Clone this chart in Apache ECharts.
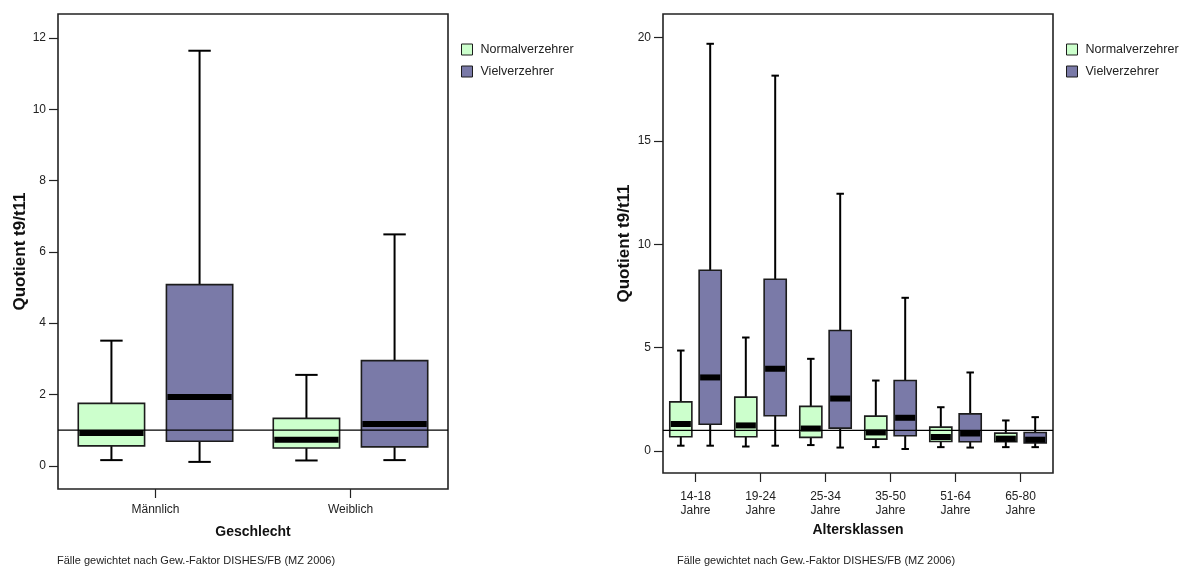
<!DOCTYPE html>
<html>
<head>
<meta charset="utf-8">
<script src="https://cdn.jsdelivr.net/npm/echarts@6/dist/echarts.min.js"></script>
<style>
  html, body { margin: 0; padding: 0; background: #fff; }
  #chart { width: 1179px; height: 573px; }
</style>
</head>
<body>
<div id="chart"></div>
<script>
// Box statistics per group: [whisker low, Q1, median, Q3, whisker high]
const genderCategories = ['Männlich', 'Weiblich'];
const genderNormal = [
  [0.16, 0.56, 0.92, 1.75, 3.51],
  [0.15, 0.50, 0.73, 1.33, 2.55]
];
const genderHeavy = [
  [0.11, 0.69, 1.93, 5.08, 11.64],
  [0.16, 0.53, 1.17, 2.95, 6.49]
];

const ageCategories = ['14-18\nJahre', '19-24\nJahre', '25-34\nJahre', '35-50\nJahre', '51-64\nJahre', '65-80\nJahre'];
const ageNormal = [
  [0.26, 0.69, 1.31, 2.38, 4.86],
  [0.22, 0.69, 1.24, 2.61, 5.49],
  [0.29, 0.66, 1.09, 2.16, 4.46],
  [0.19, 0.58, 0.90, 1.69, 3.41],
  [0.19, 0.46, 0.68, 1.16, 2.12],
  [0.19, 0.45, 0.60, 0.87, 1.48]
];
const ageHeavy = [
  [0.26, 1.30, 3.56, 8.74, 19.69],
  [0.26, 1.71, 3.98, 8.31, 18.15],
  [0.17, 1.11, 2.54, 5.83, 12.44],
  [0.10, 0.74, 1.61, 3.41, 7.41],
  [0.17, 0.45, 0.85, 1.80, 3.80],
  [0.19, 0.39, 0.55, 0.90, 1.64]
];

const genderTicks = [0, 2, 4, 6, 8, 10, 12];
const ageTicks = [0, 5, 10, 15, 20];
const referenceValue = [1];

const seriesNames = ['Normalverzehrer', 'Vielverzehrer'];
const footerText = 'Fälle gewichtet nach Gew.-Faktor DISHES/FB (MZ 2006)';

const FONT = 'Arial, "Liberation Sans", sans-serif';
const GREEN = '#ccffcc';
const PURPLE = '#7a7aa8';
const EDGE = '#1c1c1c';

function toRows(stats) {
  return stats.map((s, i) => [i].concat(s));
}

// Draws one box with whiskers, caps and a thick median band, offset within its category band.
function makeBoxRenderer(offsetFrac, fill) {
  return function (params, api) {
    const cat = api.value(0);
    const band = api.size([1, 0])[0];
    const cx = api.coord([cat, 0])[0] + offsetFrac * band;
    const y = (k) => api.coord([cat, api.value(k)])[1];
    const yLow = y(1), yQ1 = y(2), yMed = y(3), yQ3 = y(4), yHigh = y(5);
    const bw = band * 0.34;
    const cap = band * 0.115;
    const lineStyle = { stroke: '#000', lineWidth: 2 };
    return {
      type: 'group',
      children: [
        { type: 'line', shape: { x1: cx, y1: yQ3, x2: cx, y2: yHigh }, style: lineStyle },
        { type: 'line', shape: { x1: cx, y1: yQ1, x2: cx, y2: yLow }, style: lineStyle },
        { type: 'line', shape: { x1: cx - cap / 2, y1: yHigh, x2: cx + cap / 2, y2: yHigh }, style: lineStyle },
        { type: 'line', shape: { x1: cx - cap / 2, y1: yLow, x2: cx + cap / 2, y2: yLow }, style: lineStyle },
        { type: 'rect', shape: { x: cx - bw / 2, y: yQ3, width: bw, height: yQ1 - yQ3 },
          style: { fill: fill, stroke: EDGE, lineWidth: 1.6 } },
        { type: 'rect', shape: { x: cx - bw / 2 + 1, y: yMed - 3, width: bw - 2, height: 6 },
          style: { fill: '#000' } }
      ]
    };
  };
}

function referenceRenderer(params, api) {
  const cs = params.coordSys;
  const yv = api.coord([0, api.value(0)])[1];
  return {
    type: 'line',
    shape: { x1: cs.x, y1: yv, x2: cs.x + cs.width, y2: yv },
    style: { stroke: '#000', lineWidth: 1.2 }
  };
}

function boxSeries(name, idx, stats, offsetFrac, fill) {
  return {
    name: name,
    type: 'custom',
    xAxisIndex: idx,
    yAxisIndex: idx,
    itemStyle: { color: fill },
    renderItem: makeBoxRenderer(offsetFrac, fill),
    encode: { x: 0, y: [1, 2, 3, 4, 5] },
    data: toRows(stats),
    z: 2
  };
}

function refSeries(idx) {
  return {
    type: 'custom',
    xAxisIndex: idx,
    yAxisIndex: idx,
    renderItem: referenceRenderer,
    encode: { y: 0 },
    data: referenceValue.map(v => [v]),
    silent: true,
    z: 5
  };
}

function makeYAxis(idx, min, max, ticks, nameGap) {
  return {
    type: 'value',
    gridIndex: idx,
    min: min,
    max: max,
    name: 'Quotient t9/t11',
    nameLocation: 'middle',
    nameRotate: 90,
    nameGap: nameGap,
    nameTextStyle: { fontFamily: FONT, fontSize: 17, fontWeight: 'bold', color: '#111' },
    axisLine: { show: false, onZero: false },
    splitLine: { show: false },
    axisTick: { show: true, length: 9, customValues: ticks, lineStyle: { color: '#222', width: 1.2 } },
    axisLabel: { customValues: ticks, margin: 12, fontFamily: FONT, fontSize: 12, color: '#222' }
  };
}

function makeXAxis(idx, cats, name, nameGap, labelMargin) {
  return {
    type: 'category',
    gridIndex: idx,
    data: cats,
    boundaryGap: true,
    name: name,
    nameLocation: 'middle',
    nameGap: nameGap,
    nameTextStyle: { fontFamily: FONT, fontSize: 14, fontWeight: 'bold', color: '#111' },
    axisLine: { show: false, onZero: false },
    splitLine: { show: false },
    axisTick: { show: true, alignWithLabel: true, length: 9, lineStyle: { color: '#222', width: 1.2 } },
    axisLabel: { margin: labelMargin, fontFamily: FONT, fontSize: 12, color: '#222', lineHeight: 14, interval: 0 }
  };
}

function makeLegend(left) {
  return {
    data: seriesNames,
    orient: 'vertical',
    left: left,
    top: 43,
    padding: 0,
    itemWidth: 11,
    itemHeight: 11,
    itemGap: 9,
    icon: 'rect',
    itemStyle: { borderColor: EDGE, borderWidth: 1 },
    textStyle: { fontFamily: FONT, fontSize: 12.5, color: '#222', padding: [0, 0, 0, 3] },
    selectedMode: false
  };
}

const chart = echarts.init(document.getElementById('chart'), null, { renderer: 'canvas' });

chart.setOption({
  backgroundColor: '#fff',
  animation: false,
  grid: [
    { left: 58, top: 14, width: 390, height: 475, show: true, borderColor: '#222', borderWidth: 1.6, backgroundColor: 'transparent' },
    { left: 663, top: 14, width: 390, height: 459, show: true, borderColor: '#222', borderWidth: 1.6, backgroundColor: 'transparent' }
  ],
  xAxis: [
    makeXAxis(0, genderCategories, 'Geschlecht', 36, 14),
    makeXAxis(1, ageCategories, 'Altersklassen', 50, 17)
  ],
  yAxis: [
    makeYAxis(0, -0.65, 12.67, genderTicks, 25),
    makeYAxis(1, -1.06, 21.13, ageTicks, 30)
  ],
  legend: [makeLegend(461), makeLegend(1066)],
  title: [
    { text: footerText, left: 57, top: 555, padding: 0,
      textStyle: { fontFamily: FONT, fontSize: 11, fontWeight: 'normal', color: '#222' } },
    { text: footerText, left: 677, top: 555, padding: 0,
      textStyle: { fontFamily: FONT, fontSize: 11, fontWeight: 'normal', color: '#222' } }
  ],
  series: [
    boxSeries(seriesNames[0], 0, genderNormal, -0.226, GREEN),
    boxSeries(seriesNames[1], 0, genderHeavy, 0.226, PURPLE),
    boxSeries(seriesNames[0], 1, ageNormal, -0.226, GREEN),
    boxSeries(seriesNames[1], 1, ageHeavy, 0.226, PURPLE),
    refSeries(0),
    refSeries(1)
  ]
});
</script>
</body>
</html>
